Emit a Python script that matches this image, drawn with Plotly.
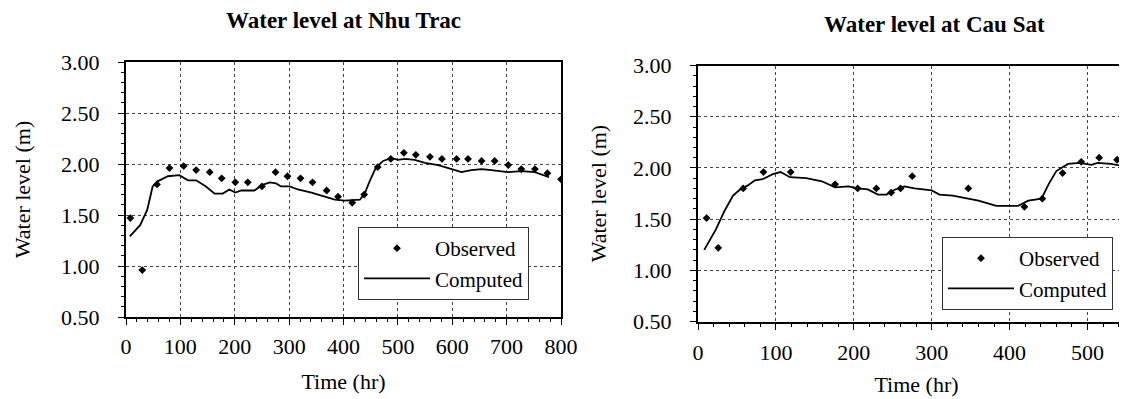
import plotly.graph_objects as go

# ---------------- data ----------------
nt_obs_t = [8, 30, 57, 80, 106, 129, 154, 176, 201, 224, 250, 275, 297, 321, 343, 369, 390, 416, 438,
            463, 487, 511, 533, 559, 581, 608, 629, 654, 678, 703, 727, 752, 775, 800]
nt_obs_v = [1.47, 0.96, 1.80, 1.96, 1.98, 1.94, 1.92, 1.86, 1.82, 1.82, 1.78, 1.92, 1.88, 1.86, 1.82,
            1.74, 1.68, 1.62, 1.70, 1.97, 2.05, 2.11, 2.09, 2.07, 2.05, 2.05, 2.05, 2.03, 2.03, 1.99,
            1.95, 1.95, 1.91, 1.85]
nt_cmp_t = [7, 26, 39, 49, 58, 77, 98, 114, 129, 147, 163, 178, 190, 201, 212, 236, 249, 264, 276, 285,
            301, 316, 341, 365, 384, 402, 430, 439, 448, 460, 473, 488, 500, 513, 531, 550, 574, 599,
            617, 635, 654, 672, 691, 702, 727, 752, 778]
nt_cmp_v = [1.29, 1.40, 1.55, 1.78, 1.83, 1.88, 1.89, 1.84, 1.84, 1.78, 1.71, 1.71, 1.75, 1.72, 1.74,
            1.74, 1.79, 1.82, 1.81, 1.78, 1.78, 1.75, 1.72, 1.68, 1.65, 1.64, 1.65, 1.71, 1.83, 1.97,
            2.03, 2.06, 2.04, 2.05, 2.04, 2.01, 1.99, 1.95, 1.92, 1.94, 1.95, 1.94, 1.93, 1.92, 1.93,
            1.92, 1.87]

cs_obs_t = [11, 26, 58, 84, 119, 176, 205, 229, 248, 260, 275, 347, 419, 442, 468, 492, 515, 538]
cs_obs_v = [1.51, 1.22, 1.80, 1.96, 1.96, 1.84, 1.80, 1.80, 1.76, 1.80, 1.92, 1.80, 1.62, 1.70, 1.95,
            2.06, 2.10, 2.08]
cs_cmp_t = [8, 23, 34, 45, 54, 64, 73, 83, 96, 106, 118, 139, 159, 176, 193, 205, 218, 231, 242, 253,
            265, 278, 300, 310, 327, 342, 360, 383, 411, 424, 441, 450, 460, 475, 490, 505, 513, 530,
            545, 562]
cs_cmp_v = [1.20, 1.40, 1.58, 1.73, 1.79, 1.83, 1.88, 1.89, 1.94, 1.96, 1.91, 1.90, 1.87, 1.81, 1.82,
            1.80, 1.79, 1.74, 1.74, 1.79, 1.82, 1.80, 1.78, 1.74, 1.73, 1.71, 1.68, 1.63, 1.63, 1.68,
            1.70, 1.84, 1.97, 2.04, 2.05, 2.03, 2.05, 2.04, 2.02, 1.98]

titles = ["Water level at Nhu Trac", "Water level at Cau Sat"]
x_title = "Time (hr)"
y_title = "Water level (m)"
y_ticks = [0.5, 1.0, 1.5, 2.0, 2.5, 3.0]

# ---------------- figure ----------------
W, H = 1127, 399
FONT = "'Liberation Serif', 'Times New Roman', Times, serif"

fig = go.Figure()
fig.add_trace(go.Scatter(x=nt_obs_t, y=nt_obs_v, mode="markers", name="Observed",
                         marker=dict(symbol="diamond", size=6, color="black"),
                         xaxis="x", yaxis="y", legend="legend", legendgroup="a"))
fig.add_trace(go.Scatter(x=nt_cmp_t, y=nt_cmp_v, mode="lines", name="Computed",
                         line=dict(color="black", width=1.8),
                         xaxis="x", yaxis="y", legend="legend", legendgroup="b"))
fig.add_trace(go.Scatter(x=cs_obs_t, y=cs_obs_v, mode="markers", name="Observed",
                         marker=dict(symbol="diamond", size=6, color="black"),
                         xaxis="x2", yaxis="y2", legend="legend2", legendgroup="c"))
fig.add_trace(go.Scatter(x=cs_cmp_t, y=cs_cmp_v, mode="lines", name="Computed",
                         line=dict(color="black", width=1.8),
                         xaxis="x2", yaxis="y2", legend="legend2", legendgroup="d"))

tickfont = dict(family=FONT, size=22, color="black")
titlefont = dict(family=FONT, size=22, color="black")


def xax(domain, rng, anchor, mirror, standoff, tstand):
    return dict(domain=domain, range=rng, anchor=anchor, dtick=100, tick0=0,
                showline=True, linecolor="black", linewidth=2, mirror=mirror,
                ticks="outside", ticklen=6, tickcolor="black", tickwidth=1,
                minor=dict(dtick=20, ticks="outside", ticklen=3, tickcolor="black", showgrid=False),
                showgrid=True, gridcolor="#444", griddash="dot", gridwidth=1,
                zeroline=False, tickfont=tickfont, ticklabelstandoff=standoff,
                title=dict(text=x_title, font=titlefont, standoff=tstand), automargin=False)


def yax(domain, anchor, mirror, tstand):
    return dict(domain=domain, range=[0.5, 3.0], anchor=anchor, tickvals=y_ticks,
                ticktext=["%.2f" % v for v in y_ticks],
                showline=True, linecolor="black", linewidth=2, mirror=mirror,
                ticks="outside", ticklen=6, tickcolor="black", tickwidth=1,
                minor=dict(dtick=0.1, ticks="outside", ticklen=3, tickcolor="black", showgrid=False),
                showgrid=True, gridcolor="#444", griddash="dot", gridwidth=1,
                zeroline=False, tickfont=tickfont, ticklabelstandoff=14,
                title=dict(text=y_title, font=titlefont, standoff=tstand), automargin=False)


fig.update_layout(
    width=W, height=H,
    margin=dict(l=0, r=0, t=0, b=0),
    paper_bgcolor="white", plot_bgcolor="white",
    font=dict(family=FONT, size=22, color="black"),
    showlegend=True,
    xaxis=xax([118 / W, 553 / W], [0, 800], "y", True, 3, 15),
    yaxis=yax([1 - 309 / H, 1 - 54 / H], "x", True, 24),
    xaxis2=xax([690 / W, 1.0], [0, 561], "y2", True, 4, 13),
    yaxis2=yax([1 - 313.5 / H, 1 - 57.6 / H], "x2", False, 20),
    legend=dict(x=350 / W, y=1 - 219 / H, xanchor="left", yanchor="top",
                bgcolor="white", bordercolor="#333", borderwidth=1,
                font=dict(family=FONT, size=21, color="black"),
                itemwidth=66, tracegroupgap=8, traceorder="normal"),
    legend2=dict(x=934 / W, y=1 - 229 / H, xanchor="left", yanchor="top",
                 bgcolor="white", bordercolor="#333", borderwidth=1,
                 font=dict(family=FONT, size=21, color="black"),
                 itemwidth=66, tracegroupgap=8, traceorder="normal"),
    annotations=[
        dict(text="<b>" + titles[0] + "</b>", x=335 / W, y=1 - 13 / H, xref="paper", yref="paper",
             xanchor="center", yanchor="middle", showarrow=False,
             font=dict(family=FONT, size=23, color="black")),
        dict(text="<b>" + titles[1] + "</b>", x=926 / W, y=1 - 16 / H, xref="paper", yref="paper",
             xanchor="center", yanchor="middle", showarrow=False,
             font=dict(family=FONT, size=23, color="black")),
    ],
)

fig.write_html("out.html")
